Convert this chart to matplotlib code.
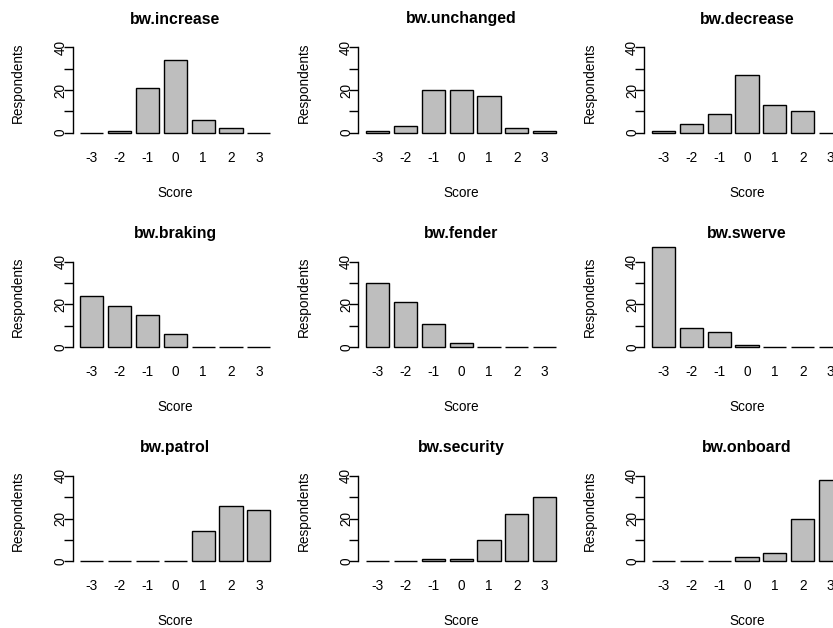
"""Grid of score histograms (bw.* items), R base-graphics look."""

import matplotlib

matplotlib.use("Agg")
import matplotlib.pyplot as plt
import numpy as np

plt.rcParams["font.family"] = ["Liberation Sans", "DejaVu Sans"]

scores = ["-3", "-2", "-1", "0", "1", "2", "3"]

bw_increase = [0, 1, 21, 34, 6, 2, 0]
bw_unchanged = [1, 3, 20, 20, 17, 2, 1]
bw_decrease = [1, 4, 9, 27, 13, 10, 0]
bw_braking = [24, 19, 15, 6, 0, 0, 0]
bw_fender = [30, 21, 11, 2, 0, 0, 0]
bw_swerve = [47, 9, 7, 1, 0, 0, 0]
bw_patrol = [0, 0, 0, 0, 14, 26, 24]
bw_security = [0, 0, 1, 1, 10, 22, 30]
bw_onboard = [0, 0, 0, 2, 4, 20, 38]

titles = [
    "bw.increase", "bw.unchanged", "bw.decrease",
    "bw.braking", "bw.fender", "bw.swerve",
    "bw.patrol", "bw.security", "bw.onboard",
]
series = [
    bw_increase, bw_unchanged, bw_decrease,
    bw_braking, bw_fender, bw_swerve,
    bw_patrol, bw_security, bw_onboard,
]

W, H = 833, 628
fig = plt.figure(figsize=(W / 100, H / 100), dpi=100)

# pixel layout of each plot region (R barplot: width 1, space 0.2, 4% padding)
col_left = [72.6, 358.4, 644.2]
plot_w = 205.5
row_zero = [132.7, 347.0, 561.3]
px_per_unit = 2.1333
ytop = 47 * 1.04
ybot = -47 * 0.04

x = 0.7 + 1.2 * np.arange(len(scores))
xlim = (0.2 - 0.04 * 8.2, 8.4 + 0.04 * 8.2)

fs = 9.8
for k, (name, vals) in enumerate(zip(titles, series)):
    r, c = divmod(k, 3)
    y0 = row_zero[r]
    top = y0 - ytop * px_per_unit
    bottom = y0 - ybot * px_per_unit
    left = col_left[c]
    ax = fig.add_axes([left / W, 1 - bottom / H, plot_w / W, (bottom - top) / H])
    ax.bar(x, vals, width=1.0, color="#bebebe", edgecolor="black", linewidth=1.0)
    ax.set_xlim(*xlim)
    ax.set_ylim(ybot, ytop)
    for s in ("top", "right", "bottom"):
        ax.spines[s].set_visible(False)
    ax.spines["left"].set_bounds(0, 40)
    ax.spines["left"].set_linewidth(1.0)
    ax.set_xticks(x, scores)
    ax.set_yticks([0, 10, 20, 30, 40], ["0", "", "20", "", "40"])
    ax.tick_params(axis="x", length=0, pad=10.1, labelsize=fs)
    ax.tick_params(axis="y", length=6.7, width=1.0, pad=-0.8, labelsize=fs)
    for lab in ax.get_yticklabels():
        lab.set_rotation(90)
        lab.set_rotation_mode("anchor")
        lab.set_ha("center")
        lab.set_va("baseline")
    ax.patch.set_visible(False)

    cx = left + plot_w / 2
    fig.text(cx / W, 1 - (y0 - 109.2) / H, name, ha="center", va="baseline",
             fontsize=11.4, fontweight="bold")
    fig.text(cx / W, 1 - (y0 + 64.0) / H, "Score", ha="center", va="baseline", fontsize=fs)
    fig.text((left - 54.5) / W, 1 - ((top + bottom) / 2) / H, "Respondents",
             ha="center", va="center", rotation=90, fontsize=fs)

fig.savefig("out.png", dpi=100)
